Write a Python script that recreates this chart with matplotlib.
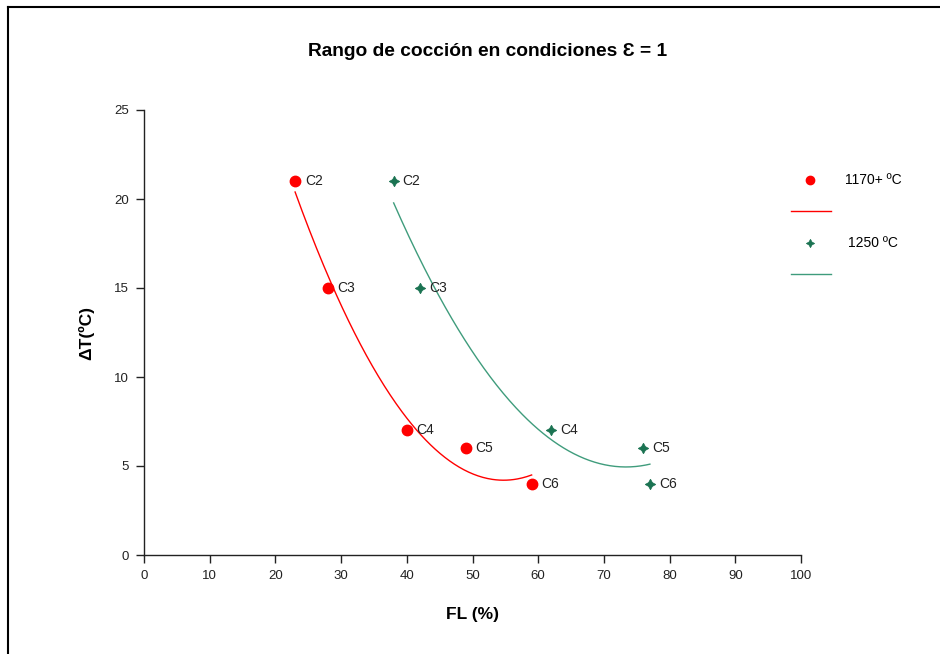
import numpy as np
import matplotlib
matplotlib.use('Agg')
import matplotlib.pyplot as plt
from matplotlib.lines import Line2D

plt.rcParams['font.family'] = ['Liberation Sans', 'DejaVu Sans']

# datos
labels = ['C2', 'C3', 'C4', 'C5', 'C6']
fl_1170 = [23, 28, 40, 49, 59]
dt_1170 = [21, 15, 7, 6, 4]
fl_1250 = [38, 42, 62, 76, 77]
dt_1250 = [21, 15, 7, 6, 4]

red = '#ff0000'
green_mk = '#1b7352'
green_ln = '#3f9c7c'

fig = plt.figure(figsize=(9.4, 6.54), dpi=100)
ax = fig.add_axes([144 / 940, 1 - 555 / 654, 657 / 940, 445 / 654])

# ajuste cuadratico de cada serie
for xs, ys, col in [(fl_1170, dt_1170, red), (fl_1250, dt_1250, green_ln)]:
    p = np.polyfit(xs, ys, 2)
    xx = np.linspace(min(xs), max(xs), 200)
    ax.plot(xx, np.polyval(p, xx), color=col, lw=1.0)

ax.plot(fl_1170, dt_1170, 'o', color=red, ms=7.5, ls='none')
ax.plot(fl_1250, dt_1250, marker=(4, 1, 0), color=green_mk, ms=7.5,
        mew=0.6, ls='none')

for x, y, t in zip(fl_1170, dt_1170, labels):
    ax.annotate(t, (x, y), xytext=(7, 0), textcoords='offset points',
                va='center', fontsize=10, color='#222222')
for x, y, t in zip(fl_1250, dt_1250, labels):
    ax.annotate(t, (x, y), xytext=(6.5, 0), textcoords='offset points',
                va='center', fontsize=10, color='#222222')

ax.set_xlim(0, 100)
ax.set_ylim(0, 25)
ax.set_xticks(range(0, 101, 10))
ax.set_yticks(range(0, 26, 5))
ax.spines['top'].set_visible(False)
ax.spines['right'].set_visible(False)
for s in ('left', 'bottom'):
    ax.spines[s].set_linewidth(1.0)
    ax.spines[s].set_color('#222222')
ax.tick_params(direction='out', length=6, width=1, labelsize=9.5,
               colors='#222222', pad=5)

ax.set_xlabel('FL (%)', fontsize=12.5, fontweight='bold', labelpad=18)
ax.set_ylabel('ΔT(ºC)', fontsize=12.5, fontweight='bold', labelpad=14)

fig.text(488 / 940, 1 - 52 / 654, 'Rango de cocción en condiciones Ɛ = 1',
         ha='center', va='center', fontsize=13.8, fontweight='bold')

# leyenda manual
def fx(px):
    return px / 940

def fy(py):
    return 1 - py / 654

fig.add_artist(Line2D([fx(810)], [fy(180)], marker='o', color=red, ms=6, ls='none'))
fig.text(fx(845), fy(180), '1170+ ºC', va='center', fontsize=10)
fig.add_artist(Line2D([fx(791), fx(831)], [fy(211), fy(211)], color=red, lw=1))
fig.add_artist(Line2D([fx(810)], [fy(243)], marker=(4, 1, 0), color=green_mk,
                      ms=6, mew=0.5, ls='none'))
fig.text(fx(848), fy(243), '1250 ºC', va='center', fontsize=10)
fig.add_artist(Line2D([fx(791), fx(831)], [fy(274), fy(274)], color=green_ln, lw=1))

# marco superior e izquierdo
fig.add_artist(Line2D([fx(8), 1], [fy(7), fy(7)], color='black', lw=1.5))
fig.add_artist(Line2D([fx(8), fx(8)], [fy(7), 0], color='black', lw=1.5))

fig.savefig('out.png', dpi=100)
